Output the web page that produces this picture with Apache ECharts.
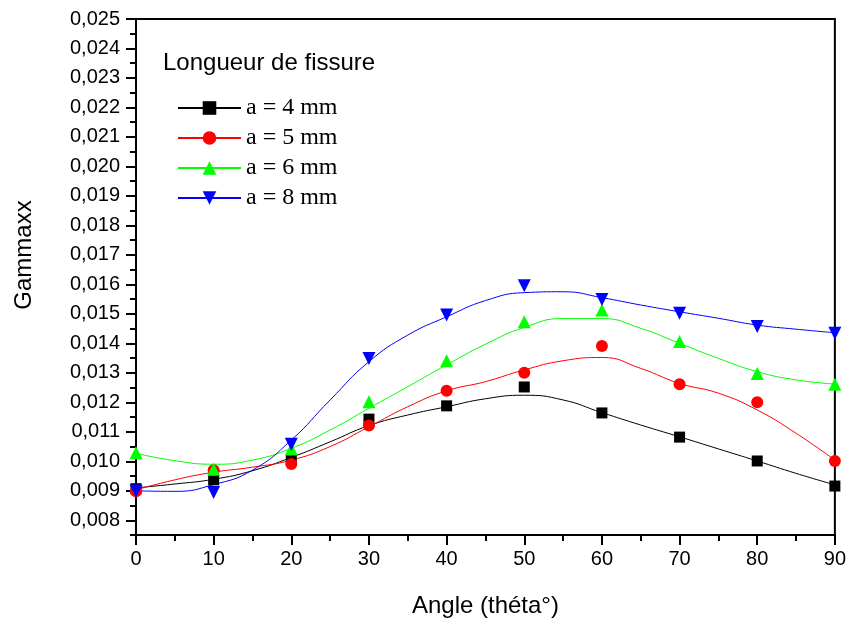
<!DOCTYPE html>
<html>
<head>
<meta charset="utf-8">
<script src="https://cdn.jsdelivr.net/npm/echarts@6/dist/echarts.min.js"></script>
<style>
  html, body { margin: 0; padding: 0; background: #fff; }
  #chart { width: 849px; height: 624px; }
</style>
</head>
<body>
<div id="chart"></div>
<script>
// measured points (angle in degrees)
const angles = [0, 10, 20, 30, 40, 50, 60, 70, 80, 90];
const a4 = [0.00907, 0.00937, 0.01004, 0.01143, 0.01188, 0.01252, 0.01164, 0.01082, 0.01001, 0.00916];
const a5 = [0.00898, 0.00970, 0.00991, 0.01121, 0.01239, 0.01300, 0.01391, 0.01261, 0.01200, 0.01001];
const a6 = [0.01029, 0.00973, 0.01042, 0.01202, 0.01341, 0.01473, 0.01513, 0.01406, 0.01298, 0.01261];
const a8 = [0.00899, 0.00894, 0.01058, 0.01349, 0.01496, 0.01595, 0.01549, 0.01502, 0.01457, 0.01434];

// fitted curves, read every 5 degrees
const curveAngles = [0, 5, 10, 15, 20, 25, 30, 35, 40, 45, 50, 55, 60, 65, 70, 75, 80, 85, 90];
const fit4 = [0.00910, 0.00923, 0.00939, 0.00968, 0.01013, 0.01066, 0.01121, 0.01157, 0.01185, 0.01212, 0.01224, 0.01208, 0.01165, 0.01123, 0.01083, 0.01042, 0.01001, 0.00959, 0.00920];
const fit5 = [0.00903, 0.00937, 0.00963, 0.00980, 0.01004, 0.01050, 0.01117, 0.01185, 0.01239, 0.01270, 0.01310, 0.01341, 0.01352, 0.01315, 0.01264, 0.01231, 0.01174, 0.01095, 0.01004];
const fit6 = [0.01027, 0.01002, 0.00990, 0.01004, 0.01044, 0.01106, 0.01180, 0.01253, 0.01327, 0.01397, 0.01454, 0.01484, 0.01484, 0.01451, 0.01400, 0.01349, 0.01304, 0.01276, 0.01262];
const fit8 = [0.00900, 0.00898, 0.00921, 0.00970, 0.01072, 0.01208, 0.01338, 0.01428, 0.01490, 0.01545, 0.01572, 0.01575, 0.01555, 0.01530, 0.01507, 0.01485, 0.01462, 0.01448, 0.01436];

const names = ["a = 4 mm", "a = 5 mm", "a = 6 mm", "a = 8 mm"];
const colors = ["#000000", "#ff0000", "#00ff00", "#0000ff"];
const yMajor = [0.008, 0.009, 0.010, 0.011, 0.012, 0.013, 0.014, 0.015, 0.016, 0.017, 0.018, 0.019, 0.020, 0.021, 0.022, 0.023, 0.024, 0.025];
const yMinor = [0.0075, 0.0085, 0.0095, 0.0105, 0.0115, 0.0125, 0.0135, 0.0145, 0.0155, 0.0165, 0.0175, 0.0185, 0.0195, 0.0205, 0.0215, 0.0225, 0.0235, 0.0245];

const points = [a4, a5, a6, a8];
const fits = [fit4, fit5, fit6, fit8];
const markers = [
  { symbol: "rect", size: 11, rotate: 0 },
  { symbol: "circle", size: 12, rotate: 0 },
  { symbol: "triangle", size: 13, rotate: 0 },
  { symbol: "triangle", size: 13, rotate: 180 }
];

const zip = (xs, ys) => xs.map((x, i) => [x, ys[i]]);

const chart = echarts.init(document.getElementById("chart"));

const series = [];
names.forEach((name, i) => {
  series.push({
    name: name,
    type: "line",
    data: zip(curveAngles, fits[i]),
    smooth: 0.5,
    showSymbol: false,
    symbol: markers[i].symbol,
    symbolSize: markers[i].size,
    symbolRotate: markers[i].rotate,
    lineStyle: { color: colors[i], width: 1 },
    itemStyle: { color: colors[i] },
    z: 2
  });
});
names.forEach((name, i) => {
  series.push({
    name: name,
    type: "scatter",
    data: zip(angles, points[i]),
    symbol: markers[i].symbol,
    symbolSize: markers[i].size,
    symbolRotate: markers[i].rotate,
    itemStyle: { color: colors[i], opacity: 1 },
    z: 3
  });
});

const fmt = v => v.toFixed(3).replace(".", ",");

const option = {
  animation: false,
  title: {
    text: "Longueur de fissure",
    left: 158,
    top: 46,
    padding: 5,
    textStyle: { fontFamily: "Liberation Sans", fontSize: 24, fontWeight: "normal", color: "#000" }
  },
  legend: {
    data: names,
    orient: "vertical",
    left: 177,
    top: 96,
    padding: 0,
    itemWidth: 63,
    itemHeight: 17,
    itemGap: 6,
    selectedMode: false,
    textStyle: { fontFamily: "Liberation Serif", fontSize: 24, lineHeight: 24, color: "#000" }
  },
  grid: {
    left: 136,
    right: 13,
    top: 19,
    bottom: 89,
    show: true,
    borderColor: "#000",
    borderWidth: 2
  },
  graphic: [
    {
      type: "text",
      x: 24,
      y: 255,
      rotation: Math.PI / 2,
      style: {
        text: "Gammaxx",
        fontFamily: "Liberation Sans",
        fontSize: 24,
        fill: "#000",
        align: "center",
        verticalAlign: "middle"
      }
    }
  ],
  xAxis: {
    type: "value",
    min: 0,
    max: 90,
    interval: 10,
    name: "Angle (théta°)",
    nameLocation: "middle",
    nameGap: 59,
    nameTextStyle: { fontFamily: "Liberation Sans", fontSize: 24, color: "#000" },
    axisLine: { lineStyle: { color: "#000", width: 2 } },
    axisTick: { length: 10, lineStyle: { color: "#000", width: 2 } },
    minorTick: { show: true, splitNumber: 2, length: 6, lineStyle: { color: "#000", width: 2 } },
    splitLine: { show: false },
    axisLabel: { fontFamily: "Liberation Sans", fontSize: 20, color: "#000", margin: 14 }
  },
  yAxis: [
    {
      type: "value",
      min: 0.0075,
      max: 0.025,
      axisLine: { lineStyle: { color: "#000", width: 2 } },
      axisTick: { length: 10, customValues: yMajor, lineStyle: { color: "#000", width: 2 } },
      splitLine: { show: false },
      axisLabel: {
        customValues: yMajor,
        formatter: fmt,
        fontFamily: "Liberation Sans",
        fontSize: 20,
        color: "#000",
        margin: 16
      }
    },
    {
      type: "value",
      min: 0.0075,
      max: 0.025,
      position: "left",
      axisLine: { show: false },
      axisTick: { show: true, length: 6, customValues: yMinor, lineStyle: { color: "#000", width: 2 } },
      axisLabel: { show: false },
      splitLine: { show: false }
    }
  ],
  series: series
};

chart.setOption(option);
</script>
</body>
</html>
